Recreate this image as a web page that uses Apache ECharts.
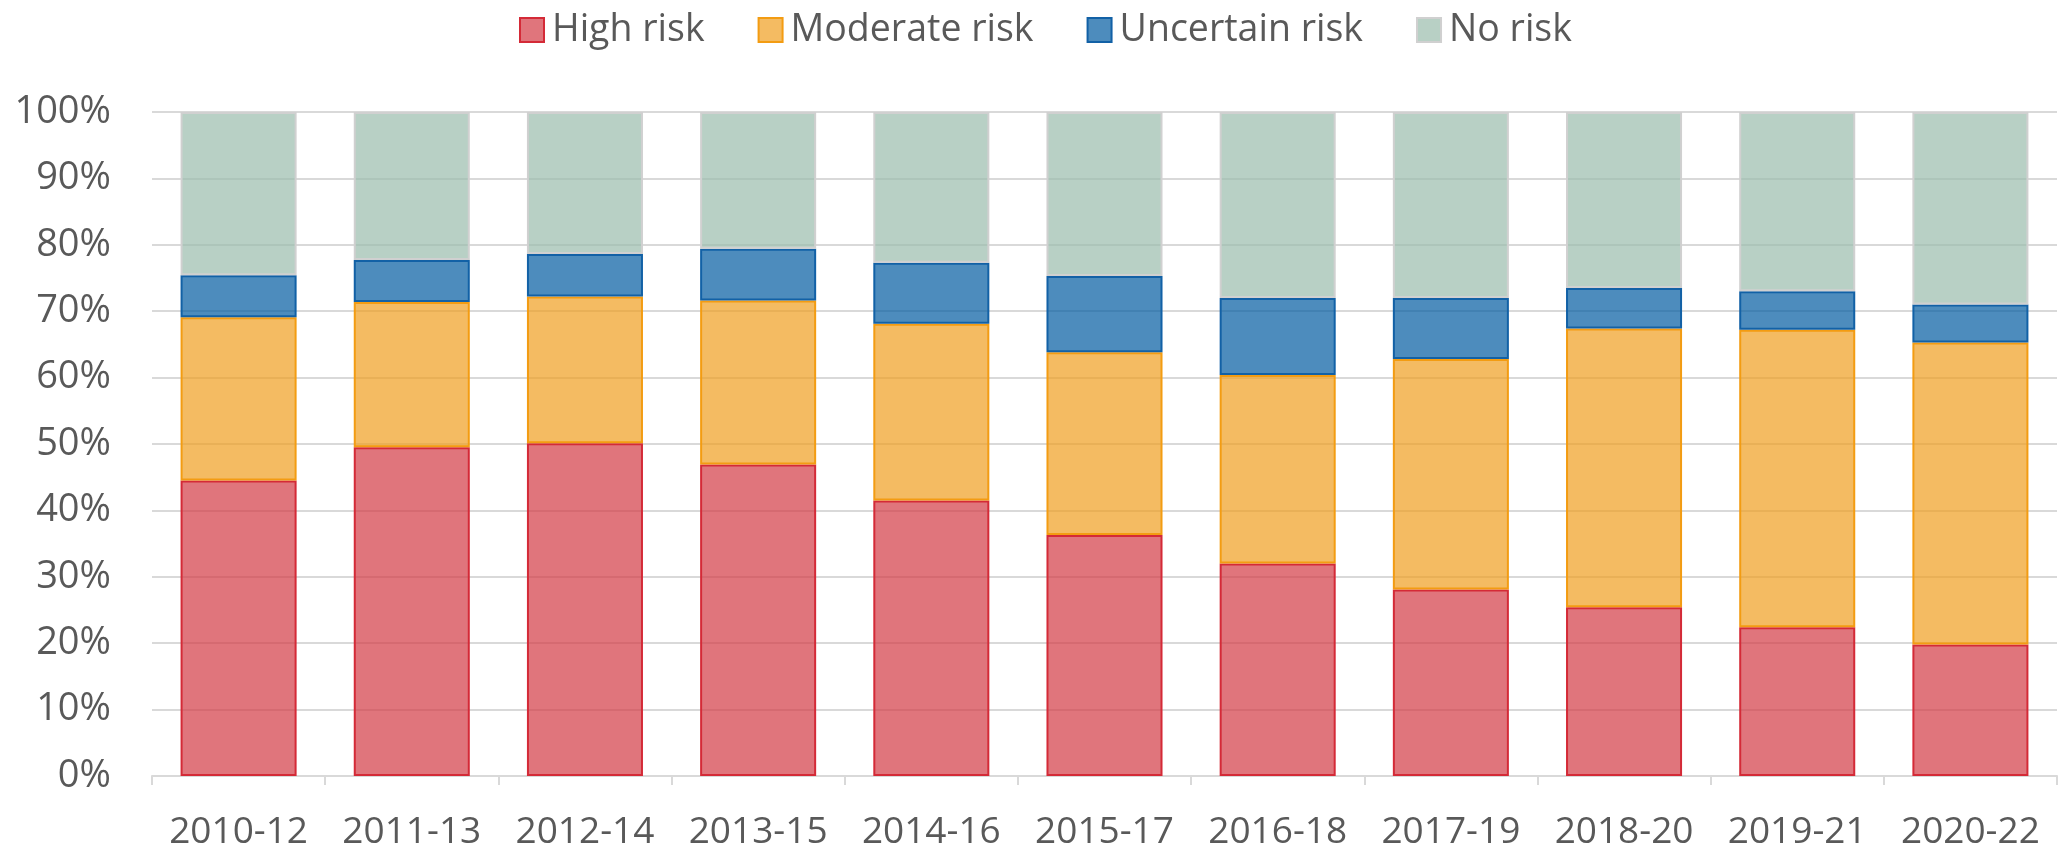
<!DOCTYPE html>
<html>
<head>
<meta charset="utf-8">
<script src="https://cdn.jsdelivr.net/npm/echarts@6/dist/echarts.min.js"></script>
<style>
  html, body { margin: 0; padding: 0; background: #fff; }
  #main { width: 2058px; height: 851px; }
</style>
</head>
<body>
<div id="main"></div>
<script>
// periods (3-year windows)
var categories = ["2010-12", "2011-13", "2012-14", "2013-15", "2014-16", "2015-17",
                  "2016-18", "2017-19", "2018-20", "2019-21", "2020-22"];
// share of each risk level, %
var highRisk      = [44.5, 49.5, 50.1, 46.9, 41.5, 36.3, 32.0, 28.1, 25.4, 22.4, 19.8];
var moderateRisk  = [24.6, 21.9, 22.1, 24.7, 26.6, 27.5, 28.4, 34.7, 42.0, 44.8, 45.5];
var uncertainRisk = [6.3, 6.3, 6.4, 7.8, 9.2, 11.5, 11.6, 9.2, 6.1, 5.8, 5.7];
var noRisk        = [24.6, 22.3, 21.4, 20.6, 22.7, 24.7, 28.0, 28.0, 26.5, 27.0, 29.0];
var seriesNames = ["High risk", "Moderate risk", "Uncertain risk", "No risk"];

var chart = echarts.init(document.getElementById("main"));

function makeSeries(name, data, fill, border) {
  return {
    name: name,
    type: "bar",
    stack: "total",
    data: data,
    barCategoryGap: "33%",
    itemStyle: {
      color: fill,
      borderColor: border,
      borderWidth: 2
    },
    emphasis: { disabled: true }
  };
}

var option = {
  animation: false,
  textStyle: { color: "#595959" },
  legend: {
    data: seriesNames,
    left: 514,
    top: 6,
    itemWidth: 24,
    itemHeight: 24,
    itemGap: 53,
    icon: "rect",
    textStyle: {
      fontFamily: "'Open Sans', sans-serif",
      fontSize: 37.5,
      color: "#595959",
      padding: [0, 0, 0, 3]
    }
  },
  grid: {
    left: 152,
    right: 1,
    top: 112,
    bottom: 74,
    containLabel: false
  },
  xAxis: {
    type: "category",
    data: categories,
    axisLine: { lineStyle: { color: "#d9d9d9", width: 2 } },
    axisTick: { show: true, interval: 0, length: 9, lineStyle: { color: "#d9d9d9", width: 2 } },
    axisLabel: {
      interval: 0,
      fontFamily: "'Open Sans', sans-serif",
      fontSize: 37,
      color: "#595959",
      margin: 38
    }
  },
  yAxis: {
    type: "value",
    min: 0,
    max: 100,
    interval: 10,
    axisLine: { show: false },
    axisTick: { show: false },
    splitLine: { lineStyle: { color: "#d9d9d9", width: 2 } },
    axisLabel: {
      formatter: "{value}%",
      fontFamily: "'Open Sans', sans-serif",
      fontSize: 38,
      color: "#595959",
      margin: 41
    }
  },
  series: [
    makeSeries(seriesNames[0], highRisk, "rgba(211,59,68,0.7)", "#d42a37"),
    makeSeries(seriesNames[1], moderateRisk, "rgba(239,158,32,0.7)", "#f39c12"),
    makeSeries(seriesNames[2], uncertainRisk, "rgba(2,91,161,0.7)", "#1261a6"),
    makeSeries(seriesNames[3], noRisk, "rgba(154,188,172,0.7)", "#d0d0d0")
  ]
};

chart.setOption(option);
</script>
</body>
</html>
